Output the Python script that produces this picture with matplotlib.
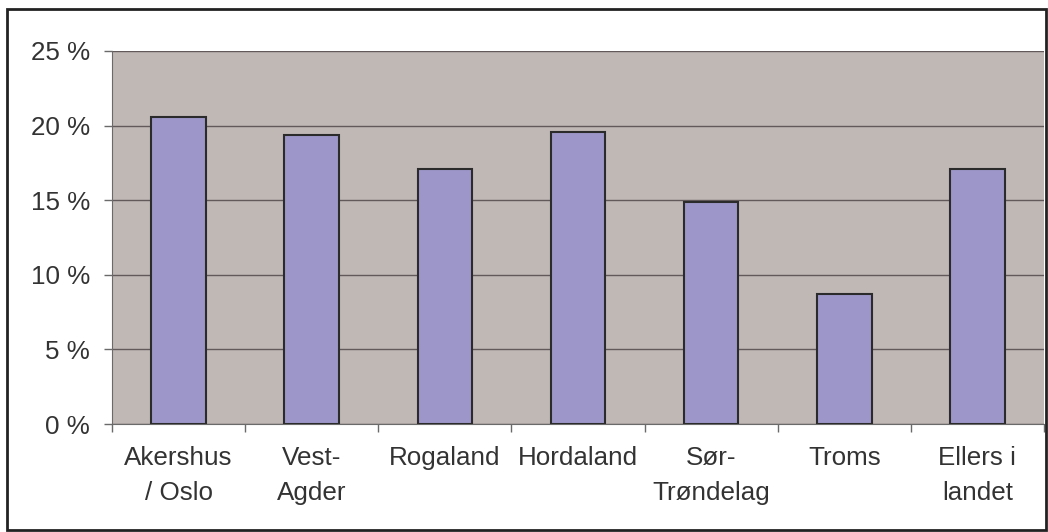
import matplotlib
matplotlib.use('Agg')
import matplotlib.pyplot as plt
from matplotlib.patches import Rectangle
from matplotlib.ticker import FuncFormatter, FixedLocator

# Data
regions = ['Akershus\n/ Oslo', 'Vest-\nAgder', 'Rogaland', 'Hordaland',
           'Sør-\nTrøndelag', 'Troms', 'Ellers i\nlandet']
shares = [20.6, 19.4, 17.1, 19.6, 14.9, 8.7, 17.1]
y_ticks = [0, 5, 10, 15, 20, 25]

plt.rcParams['font.family'] = ['Liberation Sans', 'DejaVu Sans']

fig = plt.figure(figsize=(10.48, 5.32), dpi=100)
W, H = 1048, 532
ax = fig.add_axes([112 / W, 1 - 424 / H, (1044 - 112) / W, (424 - 51) / H])

ax.set_facecolor('#c0b8b5')
x = list(range(len(regions)))
ax.bar(x, shares, width=0.41, color='#9c97c8', edgecolor='#2b2b2b',
       linewidth=1.5, zorder=3)

ax.set_xlim(-0.5, len(regions) - 0.5)
ax.set_ylim(0, 25)
ax.set_yticks(y_ticks)
ax.yaxis.set_major_formatter(FuncFormatter(lambda v, p: f'{v:.0f} %'))
ax.grid(axis='y', color='#625a5a', linewidth=1, zorder=1)

# category labels centred, tick marks between categories
ax.set_xticks(x)
ax.set_xticklabels(regions, fontsize=18.7, color='#333333', linespacing=1.55)
ax.tick_params(axis='x', length=0, pad=16)
ax.xaxis.set_minor_locator(FixedLocator([i - 0.5 for i in range(len(regions) + 1)]))
ax.tick_params(axis='x', which='minor', length=6, color='#6a6a6a', width=1)
ax.tick_params(axis='y', labelsize=18.7, labelcolor='#333333', length=6,
               color='#6a6a6a', width=1, pad=10)

for side in ['top', 'right']:
    ax.spines[side].set_visible(False)
ax.spines['left'].set_color('#6a6a6a')
ax.spines['bottom'].set_color('#6a6a6a')

# outer chart border
fig.patches.append(Rectangle((7 / W, 1 - 530 / H), (1046 - 7) / W, (530 - 9) / H,
                             transform=fig.transFigure, fill=False,
                             edgecolor='#222222', linewidth=2))

fig.savefig('out.png', dpi=100)
